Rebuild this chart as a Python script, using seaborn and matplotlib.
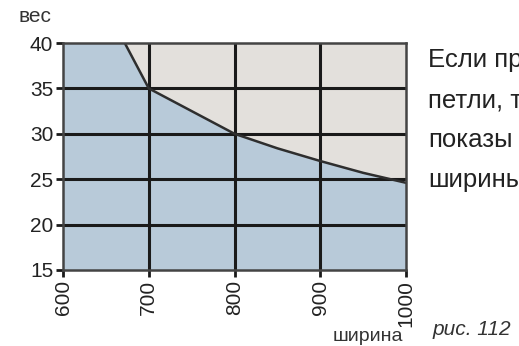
import matplotlib
matplotlib.use("Agg")
import matplotlib.pyplot as plt
import numpy as np
import pandas as pd
import seaborn as sns

# Boundary curve: weight limit by width
width = [600, 672, 700, 800, 850, 900, 950, 1000]
weight = [40, 40, 35, 30, 28.4, 27, 25.7, 24.6]
x_ticks = [600, 700, 800, 900, 1000]
y_ticks = [15, 20, 25, 30, 35, 40]
side_text = ["Если пр", "петли, т", "показы", "ширины"]

df = pd.DataFrame({"width": width, "weight": weight})

sns.set_style("white")
plt.rcParams["font.family"] = ["Liberation Sans", "DejaVu Sans"]

fig = plt.figure(figsize=(5.19, 3.46), dpi=100)
ax = fig.add_axes([0.1214, 0.2197, 0.661, 0.656])
ax.set_facecolor("#e3e0dc")

ax.fill_between(df["width"], 15, df["weight"], color="#b8cad9", zorder=1)
for v in x_ticks[1:-1]:
    ax.axvline(v, color="#1a1a1a", lw=2.2, zorder=2)
for v in y_ticks[1:-1]:
    ax.axhline(v, color="#1a1a1a", lw=2.2, zorder=2)
sns.lineplot(data=df[df["width"] >= 672], x="width", y="weight", ax=ax,
             color="#2e2e2e", lw=1.8, zorder=3)

ax.set_xlim(600, 1000)
ax.set_ylim(15, 40)
ax.set_xticks(x_ticks)
ax.set_yticks(y_ticks)
ax.set_xticklabels([str(t) for t in x_ticks], rotation=90, fontsize=15)
ax.set_yticklabels([str(t) for t in y_ticks], fontsize=15)
ax.tick_params(axis="both", length=5, width=2, color="#1a1a1a", pad=2,
               direction="out", left=True, bottom=True, labelcolor="#222222")
ax.set_xlabel("")
ax.set_ylabel("")
for s in ax.spines.values():
    s.set_color("#444444")
    s.set_linewidth(1.8)
    s.set_zorder(4)

fig.text(0.035, 0.936, "вес", fontsize=15, color="#333333", va="baseline")
fig.text(0.64, 0.014, "ширина", fontsize=14, color="#333333", va="baseline")
fig.text(0.834, 0.032, "рис. 112", fontsize=15, style="italic",
         color="#333333", va="baseline")
# side paragraph is cut off by the right edge in the original
for i, line in enumerate(side_text):
    fig.text(0.825, 0.806 - i * 0.1155, line, fontsize=18.5, color="#222222",
             va="baseline")

fig.savefig("out.png", dpi=100)
